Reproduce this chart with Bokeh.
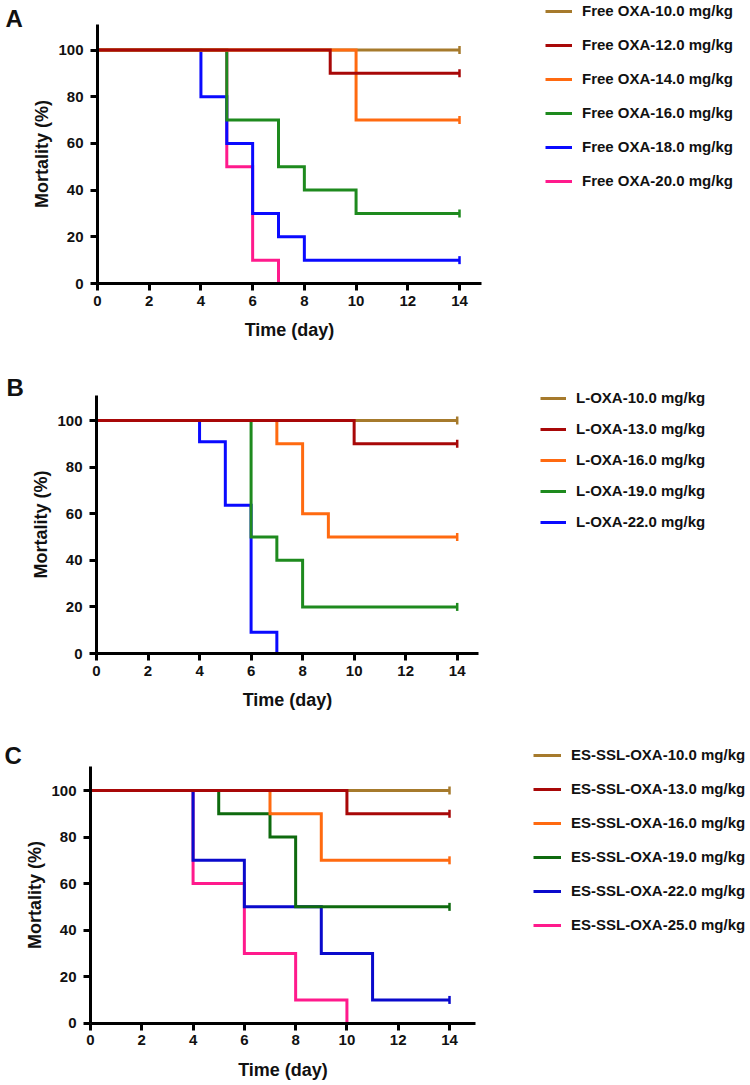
import math
from bokeh.plotting import figure
from bokeh.layouts import column
from bokeh.models import Legend, LegendItem, FixedTicker, Label, ColumnDataSource
from bokeh.embed import file_html
from bokeh.resources import INLINE

FONT = "Liberation Sans"

# ---------------- data ----------------
x_ticks = [0, 2, 4, 6, 8, 10, 12, 14]
y_ticks = [0, 20, 40, 60, 80, 100]

A_labels = ["Free OXA-10.0 mg/kg", "Free OXA-12.0 mg/kg", "Free OXA-14.0 mg/kg",
            "Free OXA-16.0 mg/kg", "Free OXA-18.0 mg/kg", "Free OXA-20.0 mg/kg"]
A_colors = ["#A67A2C", "#A80808", "#FF6A10", "#1E8A1E", "#0A0AFF", "#FF1A8C"]
A_days = [[0, 14], [0, 9, 14], [0, 10, 14], [0, 5, 7, 8, 10, 14],
          [0, 4, 5, 6, 7, 8, 14], [0, 5, 6, 7]]
A_mortality = [[100, 100], [100, 90, 90], [100, 70, 70], [100, 70, 50, 40, 30, 30],
               [100, 80, 60, 30, 20, 10, 10], [100, 50, 10, 0]]

B_labels = ["L-OXA-10.0 mg/kg", "L-OXA-13.0 mg/kg", "L-OXA-16.0 mg/kg",
            "L-OXA-19.0 mg/kg", "L-OXA-22.0 mg/kg"]
B_colors = ["#A67A2C", "#A80808", "#FF6A10", "#1E8A1E", "#0A0AFF"]
B_days = [[0, 14], [0, 10, 14], [0, 7, 8, 9, 14], [0, 6, 7, 8, 14], [0, 4, 5, 6, 7]]
B_mortality = [[100, 100], [100, 90, 90], [100, 90, 60, 50, 50], [100, 50, 40, 20, 20],
               [100, 90.9, 63.6, 9.1, 0]]

C_labels = ["ES-SSL-OXA-10.0 mg/kg", "ES-SSL-OXA-13.0 mg/kg", "ES-SSL-OXA-16.0 mg/kg",
            "ES-SSL-OXA-19.0 mg/kg", "ES-SSL-OXA-22.0 mg/kg", "ES-SSL-OXA-25.0 mg/kg"]
C_colors = ["#A67A2C", "#A80808", "#FF6A10", "#0E6A0E", "#0A0ACC", "#FF1A8C"]
C_days = [[0, 14], [0, 10, 14], [0, 7, 9, 14], [0, 5, 7, 8, 14], [0, 4, 6, 9, 11, 14],
          [0, 4, 6, 8, 10]]
C_mortality = [[100, 100], [100, 90, 90], [100, 90, 70, 70], [100, 90, 80, 50, 50],
               [100, 70, 50, 30, 10, 10], [100, 60, 30, 10, 0]]

W = 750


def make_panel(letter, labels, colors, days, mort, order, *, fig_top, height,
               ax0, x14, ax_right, y0, y100, ax_top, leg_bottom, leg_left, letter_x,
               letter_base, item_sp, glyph_w):
    # layout geometry (page pixel positions -> data ranges)
    ppd = (x14 - ax0) / 14.0
    ppp = (y0 - y100) / 100.0
    fig_bottom = fig_top + height
    xs = -ax0 / ppd
    ys = -(fig_bottom - y0) / ppp
    p = figure(width=W, height=height, output_backend="svg", toolbar_location=None,
               title=None,
               x_range=(xs, xs + W / ppd), y_range=(ys, ys + height / ppp),
               min_border_left=0, min_border_right=0, min_border_top=0,
               min_border_bottom=0)
    p.outline_line_color = None
    p.xgrid.visible = False
    p.ygrid.visible = False
    p.background_fill_color = "white"
    p.border_fill_color = "white"

    xa, ya = p.xaxis[0], p.yaxis[0]
    xa.fixed_location = 0
    ya.fixed_location = 0
    xa.bounds = (0, (ax_right - ax0) / ppd)
    ya.bounds = (0, (y0 - ax_top) / ppp)
    for ax in (xa, ya):
        ax.axis_line_width = 3
        ax.axis_line_color = "black"
        ax.major_tick_line_width = 3
        ax.major_tick_line_color = "black"
        ax.major_tick_out = 7
        ax.major_tick_in = 0
        ax.minor_tick_line_color = None
        ax.major_label_text_font = FONT
        ax.major_label_text_font_style = "bold"
        ax.major_label_text_font_size = "15px"
        ax.major_label_text_color = "#111111"
        ax.axis_label_text_font = FONT
        ax.axis_label_text_font_style = "bold"
        ax.axis_label_text_font_size = "18px"
        ax.axis_label_text_color = "#111111"
    xa.ticker = FixedTicker(ticks=x_ticks)
    ya.ticker = FixedTicker(ticks=y_ticks)
    xa.axis_label = "Time (day)"
    ya.axis_label = "Mortality (%)"
    xa.major_label_standoff = 5
    ya.major_label_standoff = 7
    xa.axis_label_standoff = 11
    ya.axis_label_standoff = 3

    renderers = {}
    for i in order:
        src = ColumnDataSource(dict(x=days[i], y=mort[i]))
        ln = p.step("x", "y", source=src, mode="after", line_color=colors[i],
                    line_width=3, line_join="miter")
        if mort[i][-1] > 0:
            cs = ColumnDataSource(dict(x=[days[i][-1]], y=[mort[i][-1]]))
        else:
            cs = ColumnDataSource(dict(x=[], y=[]))
        mk = p.scatter("x", "y", source=cs, marker="dash", angle=math.pi / 2,
                       size=8, line_color=colors[i], line_width=2.5)
        renderers[i] = [ln, mk]

    n = len(labels)
    items = [LegendItem(label=labels[i], renderers=renderers[i]) for i in range(n)]
    legend = Legend(items=items, location=(leg_left, fig_bottom - leg_bottom),
                    margin=0, padding=0,
                    border_line_color=None, background_fill_alpha=0,
                    label_text_font=FONT, label_text_font_style="bold",
                    label_text_font_size="15px", label_text_color="#111111",
                    label_height=16, glyph_height=16, spacing=item_sp,
                    glyph_width=glyph_w, label_standoff=10)
    p.add_layout(legend, "center")

    p.add_layout(Label(x=letter_x, y=fig_bottom - letter_base,
                       x_units="screen", y_units="screen",
                       text=letter, text_font=FONT, text_font_style="bold",
                       text_font_size="24px", text_color="#111111"))
    return p


pA = make_panel("A", A_labels, A_colors, A_days, A_mortality, [5, 4, 3, 0, 2, 1],
                fig_top=0, height=360, ax0=97, x14=459, ax_right=481,
                y0=283, y100=49.5, ax_top=24, leg_bottom=189, leg_left=545,
                letter_x=5, letter_base=31, item_sp=17, glyph_w=27)
pB = make_panel("B", B_labels, B_colors, B_days, B_mortality, [4, 3, 0, 2, 1],
                fig_top=360, height=380, ax0=96, x14=456.7, ax_right=478,
                y0=653, y100=420, ax_top=395, leg_bottom=530, leg_left=540,
                letter_x=6, letter_base=400, item_sp=14, glyph_w=26)
pC = make_panel("C", C_labels, C_colors, C_days, C_mortality, [5, 4, 3, 0, 2, 1],
                fig_top=740, height=345, ax0=90, x14=449, ax_right=475,
                y0=1022.7, y100=790, ax_top=766, leg_bottom=933, leg_left=533,
                letter_x=4, letter_base=768, item_sp=17, glyph_w=28)

layout = column(pA, pB, pC, spacing=0)
open("out.html", "w").write(file_html(layout, INLINE))
